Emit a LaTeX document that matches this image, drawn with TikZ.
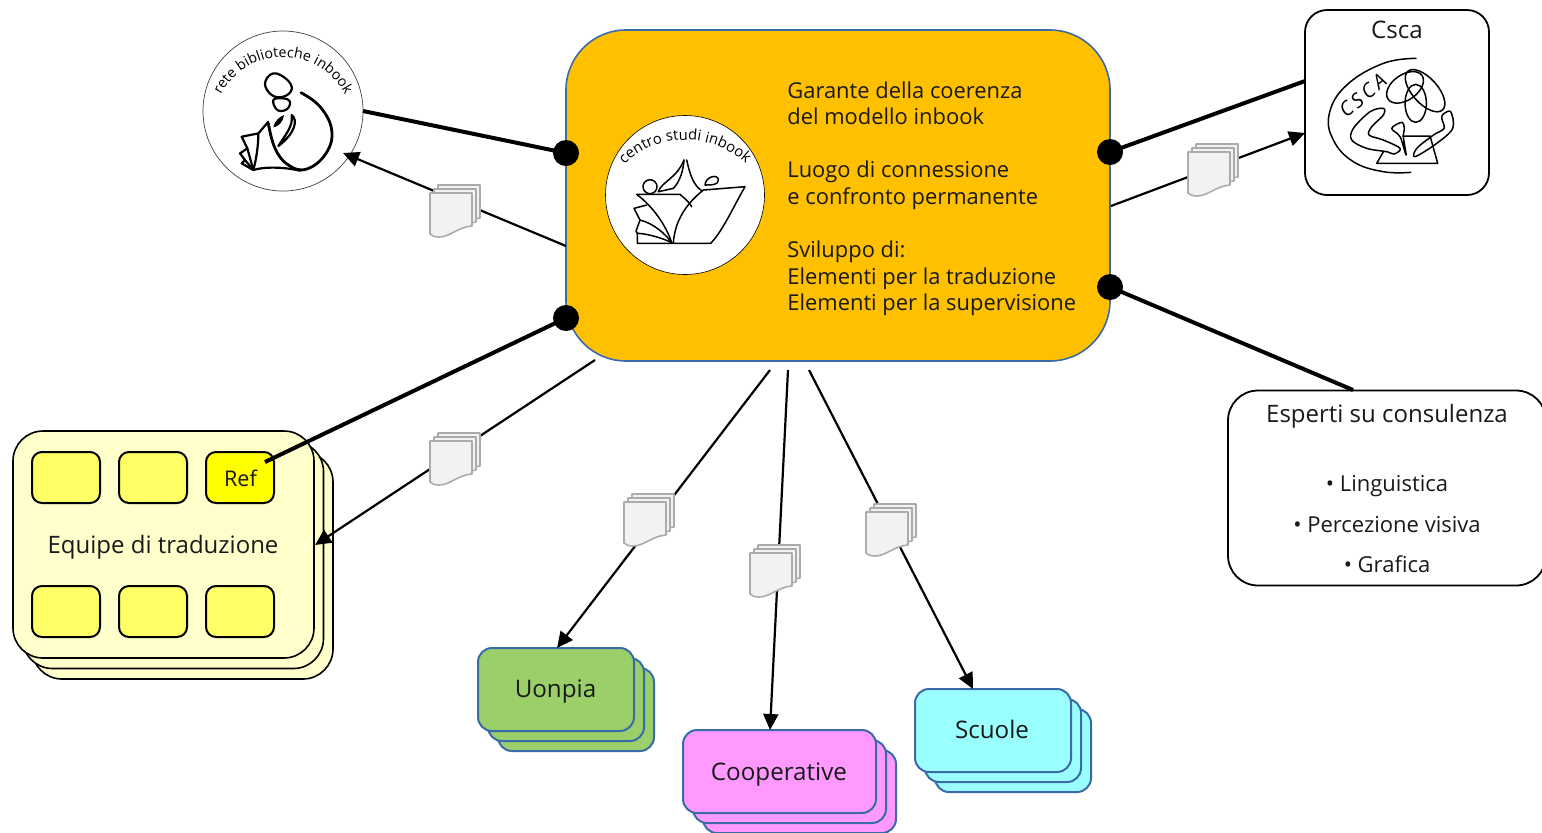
\documentclass[tikz,border=0pt]{standalone}
\usepackage{fontspec}
\setmainfont{Open Sans}
\usetikzlibrary{arrows.meta,decorations.text,calc}
\definecolor{mainfill}{HTML}{FFC000}
\definecolor{cardblue}{HTML}{3A6BA8}
\definecolor{greenfill}{HTML}{9BCF6A}
\definecolor{pinkfill}{HTML}{FF99FF}
\definecolor{cyanfill}{HTML}{99FFFF}
\definecolor{paleyellow}{HTML}{FFFFCC}
\definecolor{seatyellow}{HTML}{FFFF66}
\definecolor{refyellow}{HTML}{FFFF00}
\definecolor{docfill}{HTML}{F2F2F2}
\definecolor{docline}{HTML}{ABABAB}
\tikzset{
  x=0.5pt,y=-0.5pt,
  txt/.style={inner sep=0pt,font=\fontsize{#1}{#1}\selectfont,text=black!90},
  card/.style={draw=cardblue,line width=1pt,rounded corners=7pt,inner sep=0pt,outer sep=0pt,anchor=north west},
  yellowcard/.style={draw=black,line width=.8pt,fill=paleyellow,rounded corners=15pt,inner sep=0pt,outer sep=0pt,anchor=north west,minimum width=150.5pt,minimum height=113.5pt},
  seat/.style={draw=black,line width=1pt,fill=seatyellow,rounded corners=5pt,inner sep=0pt,outer sep=0pt,anchor=north west,minimum width=34pt,minimum height=25.5pt},
  dot/.style={circle,fill=black,minimum size=13pt,inner sep=0pt,outer sep=0pt},
  strong/.style={line width=2pt},
  flow/.style={line width=1.1pt,-{Triangle[length=8pt,width=7.5pt]}},
  logo/.style={line width=.75pt,line join=round,line cap=round},
  docpage/.style={draw=docline,fill=docfill,line width=.8pt,line join=round},
  docs/.pic={
    \foreach \d in {8,4,0}{
      \path[docpage,shift={(\d,-\d)}] (0,0) -- (42,0) -- (42,33) .. controls (28,34) and (20,44) .. (9,44) .. controls (5,44) and (2,43) .. (0,41) -- cycle;
    }
  }
}
\begin{document}
\begin{tikzpicture}
\path[use as bounding box] (0,0) rectangle (1542,832);

% named connector ends
\coordinate (reteIn) at (343,153);
\coordinate (mainOutA) at (566,246);
\coordinate (cscaThick) at (1305,81);
\coordinate (cscaIn) at (1305,133);
\coordinate (mainOutB) at (1111,206);
\coordinate (espTop) at (1353,390);
\coordinate (refIn) at (265,462);
\coordinate (mainOutC) at (595,360);
\coordinate (equipeIn) at (315,545);
\coordinate (mainOutD) at (770,370);
\coordinate (mainOutE) at (788,370);
\coordinate (mainOutF) at (809,370);
\coordinate (uonpiaIn) at (557,648);
\coordinate (coopIn) at (770,730);
\coordinate (scuoleIn) at (973,689);

% main box
\node[draw=cardblue,line width=.8pt,fill=mainfill,rounded corners=30pt,inner sep=0pt,outer sep=0pt,anchor=north west,minimum width=272pt,minimum height=165.5pt] (main) at (566,30) {};
\node[circle,fill=white,draw=black,line width=.3pt,minimum size=79.5pt,inner sep=0pt] (centro) at (685,195) {};
\node[inner sep=0pt,text=black!90,font=\fontsize{10.95}{13.3}\selectfont,align=left,anchor=north west] (maintext) at (787,81) {%
  Garante della coerenza\\del modello inbook\\[13.3pt]Luogo di connessione\\e confronto permanente\\[13.3pt]Sviluppo di:\\Elementi per la traduzione\\Elementi per la supervisione};
% centro logo text
\path[decorate,decoration={text along path,text={|\fontsize{7.4}{8}\selectfont|centro studi inbook},text align=center}]
  ($(685,229)+(175:44.5pt)$) arc[start angle=175,end angle=5,radius=44.5pt];
% centro logo art
\begin{scope}[shift={(590,100)},x=0.1667pt,y=-0.1667pt,logo]
  \draw (140,283) -- (270,283) .. controls (290,300) and (300,310) .. (305,320);
  \draw (140,283) .. controls (190,320) and (230,380) .. (245,428);
  \draw (250,428) .. controls (255,360) and (290,310) .. (340,270) -- (465,260) .. controls (430,320) and (400,390) .. (362,430) -- (142,430) -- (142,400);
  \draw (142,400) .. controls (170,400) and (220,415) .. (245,428);
  \draw (142,400) -- (138,393) -- (150,360) .. controls (190,370) and (225,400) .. (245,428);
  \draw (150,360) -- (132,325) -- (170,315);
  \draw (180,260) circle[radius=21];
  \draw (205,275) .. controls (215,245) and (260,235) .. (282,180);
  \draw (290,180) .. controls (300,225) and (310,255) .. (335,272);
  \draw (205,275) -- (250,265) .. controls (270,245) and (280,210) .. (282,180);
  \draw (345,255) .. controls (345,230) and (385,220) .. (385,240) .. controls (385,255) and (365,255) .. (345,255);
\end{scope}

% rete node
\node[circle,fill=white,draw=black!75,line width=.35pt,minimum size=80pt,inner sep=0pt,outer sep=0pt] (rete) at (283,111) {};
\path[decorate,decoration={text along path,text={|\fontsize{7.1}{8}\selectfont|rete biblioteche inbook},text align=center}]
  ($(283,127)+(175:35pt)$) arc[start angle=175,end angle=5,radius=35pt];
\begin{scope}[shift={(190,20)},x=0.1667pt,y=-0.1667pt,logo,line width=1.1pt]
  \draw plot[smooth cycle,tension=.7] coordinates {(225,190) (250,160) (290,178) (305,208) (280,230) (245,225)};
  \draw plot[smooth cycle,tension=.7] coordinates {(250,240) (280,235) (300,245) (290,268) (262,270)};
  \draw[line width=1.4pt] plot[smooth,tension=.7] coordinates {(333,218) (390,260) (425,330) (408,400) (350,447) (295,435) (255,385) (235,310)};
  \draw (235,305) -- (205,340) -- (155,350) -- (172,385) -- (150,400) -- (165,420) -- (155,430) -- (190,450) .. controls (220,440) and (280,440) .. (330,452);
  \draw (190,450) -- (165,420);
  \draw (190,450) -- (172,385);
  \draw (205,340) .. controls (205,380) and (198,420) .. (190,450);
  \fill (250,322) .. controls (255,300) and (270,290) .. (282,285) .. controls (280,305) and (265,320) .. (250,322) -- cycle;
  \draw (305,285) .. controls (325,300) and (315,340) .. (265,378) .. controls (285,345) and (310,320) .. (305,285) -- cycle;
\end{scope}

% Csca box
\node[draw=black,line width=.9pt,fill=white,rounded corners=11pt,inner sep=0pt,outer sep=0pt,anchor=north west,minimum width=92pt,minimum height=92.5pt] (csca) at (1305,10) {};
\node[txt=12.1] (cscatitle) at (1397,30) {Csca};
\begin{scope}[shift={(1170,0)},x=0.1667pt,y=-0.1667pt,logo]
  \draw plot[smooth,tension=.7] coordinates {(738,175) (640,190) (530,255) (478,340) (490,420) (550,485) (640,515) (722,517)};
  \node[rotate=40,inner sep=0pt,font=\fontsize{10}{10}\selectfont\itshape,text=black] (cscamark) at (578,287) {C\,S\,C\,A};
  \draw[rotate around={35:(705,262)}] (705,262) ellipse[x radius=62,y radius=38];
  \draw[rotate around={-48:(765,272)}] (765,272) ellipse[x radius=78,y radius=38];
  \draw (737,310) ellipse[x radius=32,y radius=57];
  \draw plot[smooth cycle,tension=.55] coordinates {(640,325) (600,335) (550,385) (545,420) (590,445) (650,455) (672,462) (690,445) (640,420) (597,405) (605,380) (640,345)};
  \draw plot[smooth cycle,tension=.55] coordinates {(820,342) (842,335) (848,385) (800,430) (735,470) (740,445) (790,405) (822,385) (815,355)};
  \draw plot[smooth cycle,tension=.55] coordinates {(708,465) (690,410) (665,385) (695,367) (703,385) (700,410)};
  \draw (698,408) -- (780,408) -- (803,490) -- (620,490) -- (640,455);
\end{scope}

% Esperti box
\node[draw=black,line width=.9pt,fill=white,rounded corners=15pt,inner sep=0pt,outer sep=0pt,anchor=north west,minimum width=159pt,minimum height=97.5pt] (esperti) at (1228,390.5) {};
\node[txt=12] (esptitle) at (1387,416) {Esperti su consulenza};
\node[txt=11] (esp1) at (1387,486.5) {• Linguistica};
\node[txt=11] (esp2) at (1387,525) {• Percezione visiva};
\node[txt=11] (esp3) at (1387,564.5) {• Grafica};

% Equipe stack
\node[yellowcard] (eq3) at (32,452) {};
\node[yellowcard] (eq2) at (22.5,441.5) {};
\node[yellowcard] (eq1) at (13,431) {};
\node[seat] (s1) at (32,452) {};
\node[seat] (s2) at (119,452) {};
\node[seat,fill=refyellow] (s3) at (206,452) {};
\node[seat] (s4) at (32,586) {};
\node[seat] (s5) at (119,586) {};
\node[seat] (s6) at (206,586) {};
\node[txt=10.8] (reflabel) at (240.5,478.5) {Ref};
\node[txt=12] (eqlabel) at (163,547) {Equipe di traduzione};

% card stacks
\foreach \n/\o in {c/20,b/10,a/0}{
  \node[card,fill=greenfill,minimum width=78pt,minimum height=41.5pt] (u\n) at ($(478,648)+(\o,\o)$) {};
  \node[card,fill=pinkfill,minimum width=96.5pt,minimum height=41.5pt] (k\n) at ($(683,730)+(\o,\o)$) {};
  \node[card,fill=cyanfill,minimum width=78pt,minimum height=41.5pt] (z\n) at ($(915,689)+(\o,\o)$) {};
}
\node[txt=12.1] (uonpia) at (555.5,692) {Uonpia};
\node[txt=12.1] (coop) at (779,775) {Cooperative};
\node[txt=12.1] (scuole) at (992,729) {Scuole};

% dots
\node[dot] (dA) at (566,153) {};
\node[dot] (dB) at (566,318) {};
\node[dot] (dC) at (1110,152) {};
\node[dot] (dD) at (1110,287) {};

% connectors
\draw[strong] (rete.east) -- (dA.center);
\draw[strong] (dB.center) -- (refIn);
\draw[strong] (dC.center) -- (cscaThick);
\draw[strong] (dD.center) -- (espTop);
\draw[flow] (mainOutA) -- (reteIn);
\draw[flow] (mainOutB) -- (cscaIn);
\draw[flow] (mainOutC) -- (equipeIn);
\draw[flow] (mainOutD) -- (uonpiaIn);
\draw[flow] (mainOutE) -- (coopIn);
\draw[flow] (mainOutF) -- (scuoleIn);

% documents
\pic at (430,193) {docs};
\pic at (1188,152) {docs};
\pic at (430,441) {docs};
\pic at (624,502) {docs};
\pic at (750,553) {docs};
\pic at (866,512) {docs};
\end{tikzpicture}
\end{document}
